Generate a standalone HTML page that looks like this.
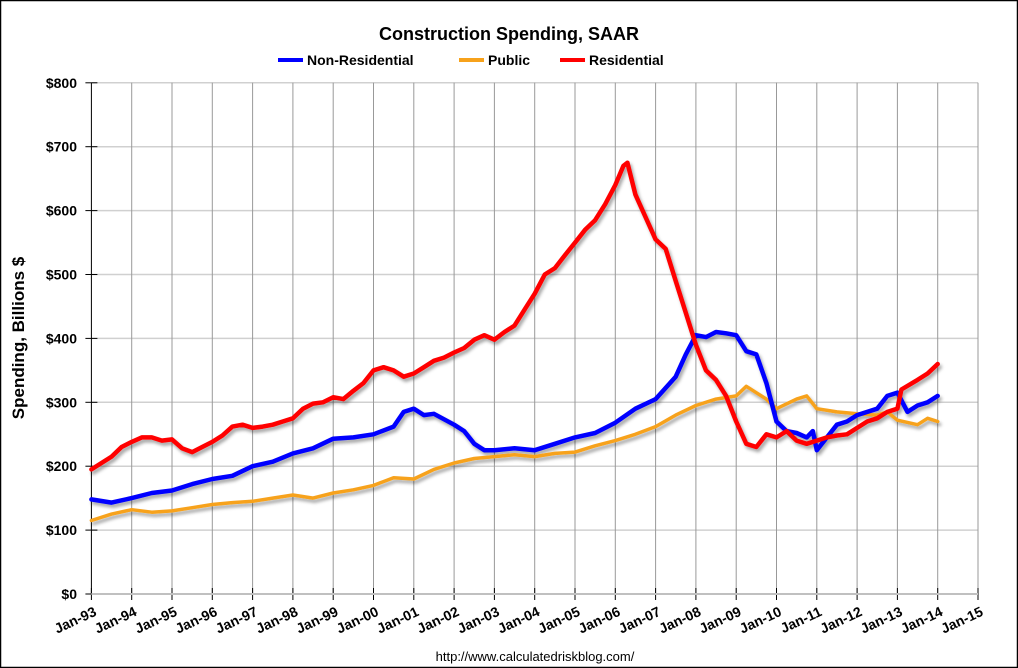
<!DOCTYPE html>
<html><head><meta charset="utf-8"><style>
html,body{margin:0;padding:0;background:#fff;}
svg{display:block;font-family:"Liberation Sans",Arial,sans-serif;}
</style></head><body>
<svg id="chart" width="1018" height="668" viewBox="0 0 1018 668">
<defs><filter id="sh" x="-5%" y="-5%" width="110%" height="110%"><feDropShadow dx="2" dy="3" stdDeviation="1.5" flood-color="#000" flood-opacity="0.35"/></filter></defs>
<rect x="0.5" y="0.5" width="1017" height="667" fill="#fff" stroke="#000" stroke-width="1.5"/>
<text x="509" y="40" text-anchor="middle" font-size="18" font-weight="bold">Construction Spending, SAAR</text>
<g id="legend"></g>
<g id="grid"></g><g id="axes"></g><g id="series" filter="url(#sh)"></g>
<text x="24" y="338" text-anchor="middle" font-size="17" font-weight="bold" transform="rotate(-90 24 338)">Spending, Billions $</text>
<text x="535" y="661" text-anchor="middle" font-size="13">http://www.calculatedriskblog.com/</text>
</svg>
<script>
const xTickLabels=["Jan-93","Jan-94","Jan-95","Jan-96","Jan-97","Jan-98","Jan-99","Jan-00","Jan-01","Jan-02","Jan-03","Jan-04","Jan-05","Jan-06","Jan-07","Jan-08","Jan-09","Jan-10","Jan-11","Jan-12","Jan-13","Jan-14","Jan-15"];
const yTicks=[0,100,200,300,400,500,600,700,800];
const seriesNames=["Non-Residential","Public","Residential"];
const seriesColors=["#0000ff","#f7a21b","#ff0000"];
const resT=[1993,1993.25,1993.5,1993.75,1994,1994.25,1994.5,1994.75,1995,1995.25,1995.5,1995.75,1996,1996.25,1996.5,1996.75,1997,1997.25,1997.5,1997.75,1998,1998.25,1998.5,1998.75,1999,1999.25,1999.5,1999.75,2000,2000.25,2000.5,2000.75,2001,2001.25,2001.5,2001.75,2002,2002.25,2002.5,2002.75,2003,2003.25,2003.5,2003.75,2004,2004.25,2004.5,2004.75,2005,2005.25,2005.5,2005.75,2006,2006.2,2006.3,2006.5,2006.75,2007,2007.25,2007.5,2007.75,2008,2008.25,2008.5,2008.75,2009,2009.25,2009.5,2009.75,2010,2010.25,2010.5,2010.75,2011,2011.25,2011.5,2011.75,2012,2012.25,2012.5,2012.75,2013,2013.1,2013.5,2013.75,2014];
const resV=[195,205,215,230,238,245,245,240,242,228,222,230,238,248,262,265,260,262,265,270,275,290,298,300,308,305,318,330,350,355,350,340,345,355,365,370,378,385,398,405,398,410,420,445,470,500,510,530,550,570,585,610,640,670,675,625,590,555,540,490,440,390,350,335,310,270,235,230,250,245,255,240,235,240,245,248,250,260,270,275,285,290,320,335,345,360];
const nonT=[1993,1993.5,1994,1994.5,1995,1995.5,1996,1996.5,1997,1997.5,1998,1998.5,1999,1999.5,2000,2000.5,2000.75,2001,2001.25,2001.5,2002,2002.25,2002.5,2002.75,2003,2003.5,2004,2004.5,2005,2005.5,2006,2006.5,2007,2007.5,2007.75,2008,2008.25,2008.5,2008.75,2009,2009.25,2009.5,2009.75,2010,2010.25,2010.5,2010.75,2010.9,2011,2011.25,2011.5,2011.75,2012,2012.5,2012.75,2013,2013.25,2013.5,2013.75,2014];
const nonV=[148,143,150,158,162,172,180,185,200,207,220,228,243,245,250,262,285,290,280,282,265,255,235,225,225,228,225,235,245,252,268,290,305,340,375,405,402,410,408,405,380,375,330,270,255,252,245,255,225,245,265,270,280,290,310,315,285,295,300,310];
const pubT=[1993,1993.5,1994,1994.5,1995,1995.5,1996,1996.5,1997,1997.5,1998,1998.5,1999,1999.5,2000,2000.5,2001,2001.5,2002,2002.5,2003,2003.5,2004,2004.5,2005,2005.5,2006,2006.5,2007,2007.5,2008,2008.5,2009,2009.25,2009.5,2009.75,2010,2010.5,2010.75,2011,2011.5,2012,2012.5,2012.75,2013,2013.5,2013.75,2014];
const pubV=[115,125,132,128,130,135,140,143,145,150,155,150,158,163,170,182,180,195,205,212,215,218,215,220,222,232,240,250,262,280,295,305,310,325,315,305,290,305,310,290,285,282,280,285,272,265,275,270];
const NS="http://www.w3.org/2000/svg";
const X0=91.4,XS=40.3,Y0=594,YS=0.639;
const xs=t=>X0+(t-1993)*XS, ys=v=>Y0-v*YS;
function el(tag,attrs,parent,txt){const e=document.createElementNS(NS,tag);for(const k in attrs)e.setAttribute(k,attrs[k]);if(txt!==undefined)e.textContent=txt;parent.appendChild(e);return e;}
const grid=document.getElementById('grid'),axes=document.getElementById('axes'),ser=document.getElementById('series'),leg=document.getElementById('legend');
yTicks.forEach(v=>{
  const l=el('line',{x1:X0,x2:978,y1:ys(v),y2:ys(v),stroke:'#d0d0d0','stroke-width':1.5},grid);
  
  
  el('line',{x1:X0-6,x2:X0+6,y1:ys(v),y2:ys(v),stroke:'#000'},axes);
  const t=el('text',{x:77,y:ys(v)+5,'text-anchor':'end','font-size':14,'font-weight':'bold'},axes,'$'+v);
  
  
});
xTickLabels.forEach((s,i)=>{
  const x=xs(1993+i);
  const l=el('line',{x1:x,x2:x,y1:ys(800),y2:Y0,stroke:i==0?'#000':'#999','stroke-width':1},grid);
  
  
  el('line',{x1:x,x2:x,y1:Y0-6,y2:Y0+6,stroke:'#000'},axes);
  const t=el('text',{x:x+6,y:Y0+21,'text-anchor':'end','font-size':14,'font-weight':'bold',transform:`rotate(-25 ${x+6} ${Y0+21})`},axes,s);
  
  
});
el('line',{x1:X0,x2:978,y1:Y0,y2:Y0,stroke:'#c0c0c0','stroke-width':2},axes);
const data=[[nonT,nonV],[pubT,pubV],[resT,resV]];
[1,0,2].forEach(i=>{
  const [T,V]=data[i];
  const p=el('polyline',{points:T.map((t,j)=>xs(t).toFixed(1)+','+ys(V[j]).toFixed(1)).join(' '),fill:'none',stroke:seriesColors[i],'stroke-width':i==1?3.5:4.5,'stroke-linejoin':'round','stroke-linecap':'round'},ser);
  
  
});
const lx=[278,459,560];
seriesNames.forEach((n,i)=>{
  const g=el('g',{},leg);
  
  
  el('line',{x1:lx[i],x2:lx[i]+25,y1:60,y2:60,stroke:seriesColors[i],'stroke-width':4},g);
  el('text',{x:lx[i]+29,y:65,'font-size':14,'font-weight':'bold'},g,n);
});
</script>
</body></html>
